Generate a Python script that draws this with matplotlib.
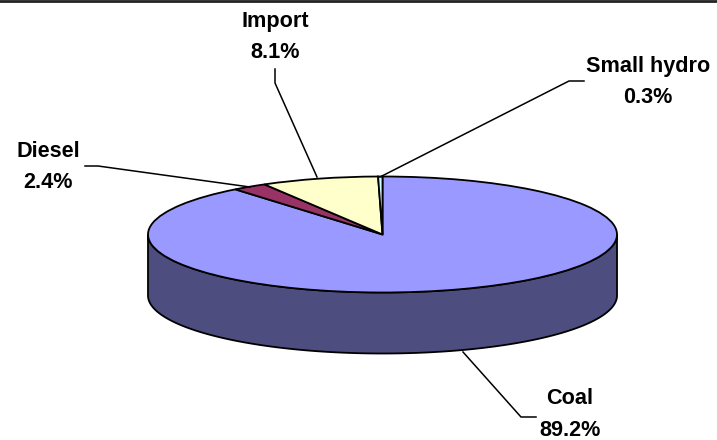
import numpy as np
import matplotlib.pyplot as plt

plt.rcParams['font.family'] = ['Liberation Sans', 'DejaVu Sans']

labels = ['Coal', 'Diesel', 'Import', 'Small hydro']
shares = [89.2, 2.4, 8.1, 0.3]
top_colors = ['#9999FF', '#993366', '#FFFFCC', '#CCFFFF']
side_colors = ['#4D4D80', '#4D1A33', '#808066', '#668080']

W, H = 717, 440
cx, cy = 382.5, 234.5
rx, ry = 234.5, 58.0
depth = 61.0 / ry

fig = plt.figure(figsize=(W / 100, H / 100), dpi=100)
ax = fig.add_axes([0, 0, 1, 1])

wedges, _ = ax.pie(shares, colors=top_colors, startangle=90, counterclock=False,
                   wedgeprops={'edgecolor': 'black', 'linewidth': 1.3, 'zorder': 3})

# pie() makes it round, so stretch the unit circle into the tilted ellipse
ax.set_aspect('auto')
ax.set_xlim(-cx / rx, (W - cx) / rx)
ax.set_ylim((cy - H) / ry, cy / ry)
ax.axis('off')

# side wall, only for the part of each slice on the front half
start = 90.0
for share, col in zip(shares, side_colors):
    end = start - share * 3.6
    # front half of the rim runs from 180 to 360 degrees, also check one turn down
    for shift in (0, -360):
        lo = max(end, 180 + shift)
        hi = min(start, 360 + shift)
        if hi > lo:
            t = np.radians(np.linspace(lo, hi, 200))
            x = np.cos(t)
            y = np.sin(t)
            xs = np.concatenate([x, x[::-1]])
            ys = np.concatenate([y, y[::-1] - depth])
            ax.fill(xs, ys, facecolor=col, edgecolor='black', linewidth=1.3, zorder=2)
    start = end


def px(x, y):
    return x / W, 1 - y / H


# leader lines, in pixel positions on the figure
leaders = {
    'Coal': [(536, 417), (521, 417), (463, 352)],
    'Diesel': [(85, 166), (98, 166), (250, 187)],
    'Import': [(275, 69), (275, 83), (317, 177)],
    'Small hydro': [(584, 81), (569, 81), (380, 177)],
}
label_pos = {
    'Coal': (570, 414.5),
    'Diesel': (48, 167),
    'Import': (275, 37),
    'Small hydro': (648, 82),
}

for name, share in zip(labels, shares):
    pts = [px(*p) for p in leaders[name]]
    fig.add_artist(plt.Line2D([p[0] for p in pts], [p[1] for p in pts],
                              color='black', linewidth=1.1, zorder=5))
    tx, ty = px(*label_pos[name])
    fig.text(tx, ty, f'{name}\n{share}%', ha='center', va='center', fontsize=15.6,
             fontweight='bold', linespacing=1.68, color='black')

# rule along the top edge
fig.add_artist(plt.Line2D([0, 1], [1 - 1 / H, 1 - 1 / H], color='#222222', linewidth=2.0))

fig.savefig('out.png', dpi=100)
